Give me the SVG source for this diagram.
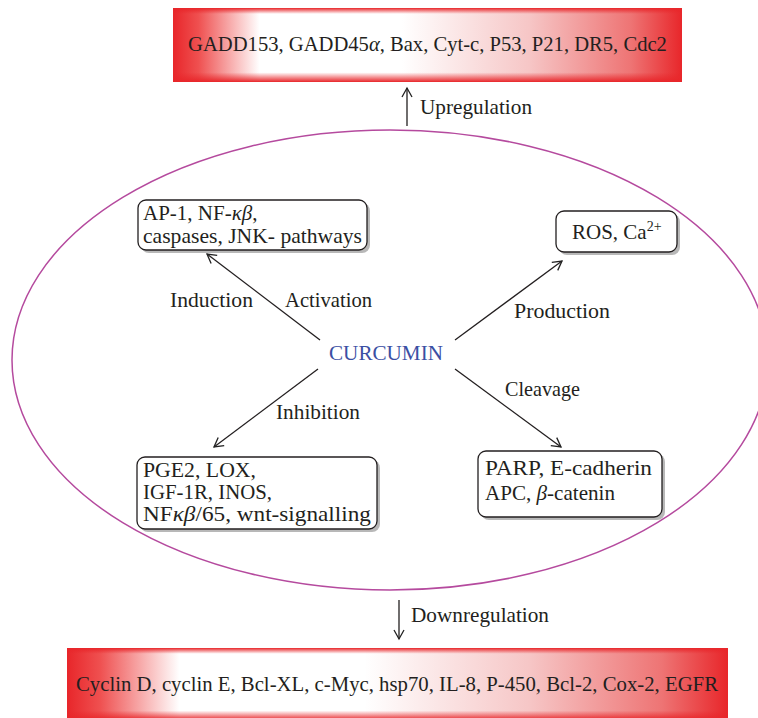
<svg xmlns="http://www.w3.org/2000/svg" width="758" height="718" viewBox="0 0 758 718" font-family="'Liberation Serif', 'DejaVu Serif', serif">
<defs>
<linearGradient id="hg" x1="0" y1="0" x2="1" y2="0">
<stop offset="0" stop-color="#e8262a"/>
<stop offset="0.05" stop-color="#ef5050"/>
<stop offset="0.17" stop-color="#ffffff"/>
<stop offset="0.45" stop-color="#ffffff"/>
<stop offset="0.7" stop-color="#f6c6c6"/>
<stop offset="0.9" stop-color="#ee7474"/>
<stop offset="1" stop-color="#e8262a"/>
</linearGradient>
<linearGradient id="vg" x1="0" y1="0" x2="0" y2="1">
<stop offset="0" stop-color="#e8262a" stop-opacity="1"/>
<stop offset="0.08" stop-color="#e8262a" stop-opacity="0"/>
<stop offset="0.87" stop-color="#e8262a" stop-opacity="0"/>
<stop offset="1" stop-color="#e8262a" stop-opacity="1"/>
</linearGradient>
<marker id="ah" markerWidth="12" markerHeight="12" refX="10" refY="6" orient="auto" markerUnits="userSpaceOnUse">
<polyline points="1,1 10,6 1,11" fill="none" stroke="#222" stroke-width="1.3"/>
</marker>
</defs>
<style>
text{font-family:"Liberation Serif","DejaVu Serif",serif;fill:#231f20;}
.lbl{font-size:21px;}
.box{fill:#fff;stroke:#231f20;stroke-width:1.3;}
.shd{fill:#b8b8b8;}
.ban{font-size:21px;}
.con{stroke:#231f20;stroke-width:1.3;fill:none;marker-end:url(#ah);}
</style>
<rect width="758" height="718" fill="#fff"/>

<g id="upregulated">
<rect x="173" y="8" width="509" height="74" fill="url(#hg)"/>
<rect x="173" y="8" width="509" height="74" fill="url(#vg)"/>
<text x="427.5" y="51" font-size="20.6" text-anchor="middle">GADD153, GADD45<tspan font-style="italic">α</tspan>, Bax, Cyt-c, P53, P21, DR5, Cdc2</text>
</g>

<g id="downregulated">
<rect x="67" y="648" width="661" height="72" fill="url(#hg)"/>
<rect x="67" y="648" width="661" height="72" fill="url(#vg)"/>
<text class="ban" x="76" y="691" textLength="642" lengthAdjust="spacingAndGlyphs">Cyclin D, cyclin E, Bcl-XL, c-Myc, hsp70, IL-8, P-450, Bcl-2, Cox-2, EGFR</text>
</g>

<g id="cell">
<ellipse cx="390" cy="360" rx="378" ry="230" fill="none" stroke="#b54a9e" stroke-width="1.5"/>
</g>

<g id="curcumin">
<text x="386" y="360" font-size="21" text-anchor="middle" textLength="114" lengthAdjust="spacingAndGlyphs" style="fill:#3b4fa3">CURCUMIN</text>
</g>

<g id="ap1">
<rect class="shd" x="141" y="203" width="229" height="50" rx="8"/>
<rect class="box" x="138" y="200" width="229" height="50" rx="8"/>
<text class="lbl" x="143" y="220">AP-1, NF-<tspan font-style="italic">κβ</tspan>,</text>
<text class="lbl" x="143" y="243" textLength="219" lengthAdjust="spacingAndGlyphs">caspases, JNK- pathways</text>
</g>

<g id="ros">
<rect class="shd" x="559" y="214" width="121" height="41" rx="8"/>
<rect class="box" x="556" y="211" width="121" height="41" rx="8"/>
<text class="lbl" x="572" y="239">ROS, Ca<tspan font-size="14" dy="-8">2+</tspan></text>
</g>

<g id="pge2">
<rect class="shd" x="140" y="460" width="240" height="72" rx="8"/>
<rect class="box" x="137" y="457" width="240" height="72" rx="8"/>
<text class="lbl" x="143" y="477" textLength="113" lengthAdjust="spacingAndGlyphs">PGE2, LOX,</text>
<text class="lbl" x="143" y="499" textLength="129" lengthAdjust="spacingAndGlyphs">IGF-1R, INOS,</text>
<text class="lbl" x="143" y="521" textLength="228" lengthAdjust="spacingAndGlyphs">NF<tspan font-style="italic">κβ</tspan>/65, wnt-signalling</text>
</g>

<g id="parp">
<rect class="shd" x="481" y="454" width="184" height="66" rx="8"/>
<rect class="box" x="478" y="451" width="184" height="66" rx="8"/>
<text class="lbl" x="485" y="475" textLength="167" lengthAdjust="spacingAndGlyphs">PARP, E-cadherin</text>
<text class="lbl" x="485" y="500" textLength="130" lengthAdjust="spacingAndGlyphs">APC, <tspan font-style="italic">β</tspan>-catenin</text>
</g>

<g id="connectors">
<line class="con" x1="407" y1="126" x2="407" y2="88"/>
<line class="con" x1="399" y1="600" x2="399" y2="639"/>
<line class="con" x1="320" y1="340" x2="207" y2="254"/>
<line class="con" x1="455" y1="340" x2="562" y2="261"/>
<line class="con" x1="318" y1="369" x2="214" y2="447"/>
<line class="con" x1="455" y1="369" x2="561" y2="447"/>
</g>

<g id="labels">
<text class="lbl" x="420" y="114" textLength="112" lengthAdjust="spacingAndGlyphs">Upregulation</text>
<text class="lbl" x="411" y="622" textLength="138" lengthAdjust="spacingAndGlyphs">Downregulation</text>
<text class="lbl" x="170" y="307" textLength="83" lengthAdjust="spacingAndGlyphs">Induction</text>
<text class="lbl" x="285" y="307" textLength="87" lengthAdjust="spacingAndGlyphs">Activation</text>
<text class="lbl" x="514" y="318" textLength="96" lengthAdjust="spacingAndGlyphs">Production</text>
<text class="lbl" x="276" y="419" textLength="84" lengthAdjust="spacingAndGlyphs">Inhibition</text>
<text class="lbl" x="505" y="396" textLength="75" lengthAdjust="spacingAndGlyphs">Cleavage</text>
</g>
</svg>
